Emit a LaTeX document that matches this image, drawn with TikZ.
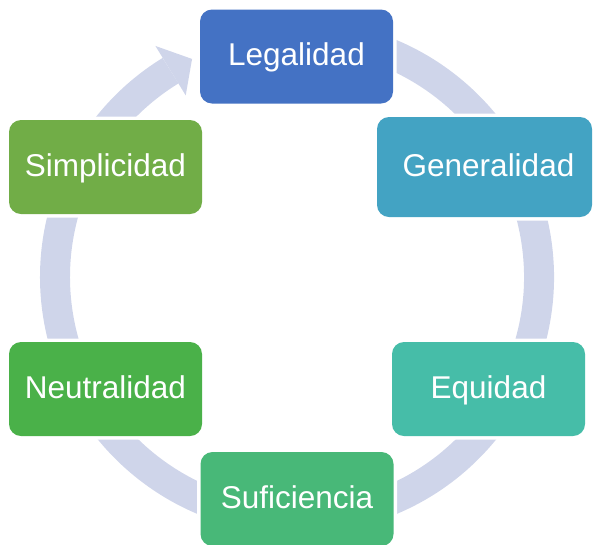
\documentclass[tikz,border=0pt]{standalone}
\usepackage{fontspec}
\setmainfont{Liberation Sans}
\usetikzlibrary{calc}
\definecolor{ringc}{HTML}{CFD5EA}
\definecolor{cLeg}{HTML}{4472C4}
\definecolor{cGen}{HTML}{43A3C3}
\definecolor{cEqu}{HTML}{46BDA8}
\definecolor{cSuf}{HTML}{48B878}
\definecolor{cNeu}{HTML}{4AB149}
\definecolor{cSim}{HTML}{71AD47}
\tikzset{
  ring/.style={draw=ringc, line width=30pt, line cap=butt},
  cbox/.style={rounded corners=12pt, minimum width=193pt, minimum height=94pt,
    inner sep=0pt, text=white, text height=22.5pt, text depth=4pt,
    font=\fontsize{31.5}{36}\selectfont,
    preaction={draw=white, line width=7pt}},
}
\begin{document}
\begin{tikzpicture}[x=1pt,y=1pt]
\useasboundingbox (0,0) rectangle (593,-544);
\coordinate (C) at (297,-277);
% ring
\draw[ring] ($(C)+(100:242)$) arc[start angle=100, end angle=-238.5, radius=242];
\fill[ringc] ($(C)+(121.5:271)$) -- ($(C)+(115.7:242)$) -- ($(C)+(121.5:213)$) -- cycle;
% boxes
\node[cbox, fill=cLeg] (leg) at (296.5,-56.5) {Legalidad};
\node[cbox, fill=cGen, minimum width=215pt, minimum height=100pt] (gen) at (484.5,-167) {\hspace*{8pt}Generalidad};
\node[cbox, fill=cEqu] (equ) at (488.5,-389) {Equidad};
\node[cbox, fill=cSuf] (suf) at (297,-499) {Suficiencia};
\node[cbox, fill=cNeu] (neu) at (105.5,-389) {Neutralidad};
\node[cbox, fill=cSim] (sim) at (105.5,-167) {Simplicidad};
\end{tikzpicture}
\end{document}
